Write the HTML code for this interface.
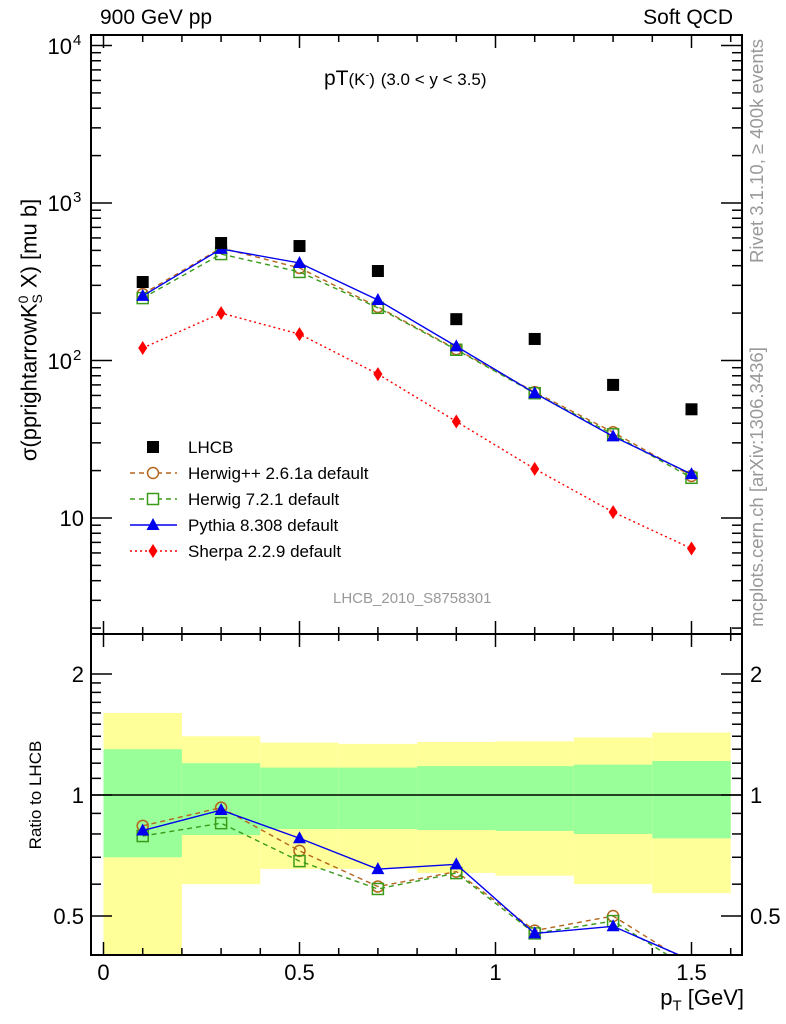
<!DOCTYPE html>
<html><head><meta charset="utf-8"><style>
html,body{margin:0;padding:0;background:#fff;}
svg{display:block;font-family:"Liberation Sans",sans-serif;}
</style></head><body>
<svg id="c" width="786" height="1024" viewBox="0 0 786 1024"></svg>
<script>
const xCenters=[0.1,0.3,0.5,0.7,0.9,1.1,1.3,1.5];
const lhcb=[315,557,533,370,183,137,70,49];
const herwigpp=[264,518,387,219,118,63,35,18.5];
const herwig7=[249,474,365,216,117,62,34,18];
const pythia=[257,511,416,242,123,62,33,19];
const sherpa=[120,200,147,82,41,20.5,10.9,6.4];
const binEdges=[0,0.2,0.4,0.6,0.8,1.0,1.2,1.4,1.6];
const yellowUp=[1.60,1.40,1.35,1.34,1.355,1.36,1.39,1.43];
const greenUp=[1.30,1.20,1.17,1.17,1.18,1.18,1.19,1.215];
const greenLo=[0.70,0.795,0.823,0.823,0.818,0.814,0.80,0.78];
const yellowLo=[0.35,0.60,0.655,0.655,0.64,0.63,0.60,0.57];
const xTicks=[0,0.5,1,1.5];
const xTickLabels=["0","0.5","1","1.5"];
const ratioTicks=[0.5,1,2];
const ratioTickLabels=["0.5","1","2"];

const NS="http://www.w3.org/2000/svg";
const svg=document.getElementById('c');
const L=91,R=742,T=35,MB=634,RB=955;
const X=v=>103.5+v*392;
const Y=v=>518-(Math.log10(v)-1)*157.5;
const RY=v=>795-Math.log10(v)*402;
function mk(tag,a,parent){const e=document.createElementNS(NS,tag);for(const k in a)e.setAttribute(k,a[k]);(parent||svg).appendChild(e);return e;}

const defs=mk('defs',{});
const cp1=mk('clipPath',{id:'cm'},defs);mk('rect',{x:L,y:T,width:R-L,height:MB-T},cp1);
const cp2=mk('clipPath',{id:'cr'},defs);mk('rect',{x:L,y:MB,width:R-L,height:RB-MB},cp2);

const gb=mk('g',{'clip-path':'url(#cr)'});


for(let i=0;i<xCenters.length;i++){
  const x0=X(binEdges[i]),x1=X(binEdges[i+1]);
  const yb=mk('rect',{x:x0,y:RY(yellowUp[i]),width:x1-x0,height:RY(yellowLo[i])-RY(yellowUp[i]),fill:'#ffff99'},gb);
  
  
  const gr=mk('rect',{x:x0,y:RY(greenUp[i]),width:x1-x0,height:RY(greenLo[i])-RY(greenUp[i]),fill:'#99ff99'},gb);
  
  
}
mk('line',{x1:L,x2:R,y1:RY(1),y2:RY(1),stroke:'#000','stroke-width':1.5});

const series=[
 {name:'herwigpp',d:herwigpp,c:'#b5651d',dash:'5,4',m:'circle'},
 {name:'herwig7',d:herwig7,c:'#3a9a1a',dash:'5,4',m:'osquare'},
 {name:'pythia',d:pythia,c:'#0000ee',dash:'',m:'tri'},
 {name:'sherpa',d:sherpa,c:'#ff0000',dash:'2,3',m:'diamond'}
];
function marker(g,type,x,y,c){
  let e;
  if(type==='circle')e=mk('circle',{cx:x,cy:y,r:5.5,fill:'none',stroke:c,'stroke-width':1.5},g);
  else if(type==='osquare')e=mk('rect',{x:x-5.5,y:y-5.5,width:11,height:11,fill:'none',stroke:c,'stroke-width':1.5},g);
  else if(type==='tri')e=mk('polygon',{points:`${x},${y-7} ${x-6.5},${y+5} ${x+6.5},${y+5}`,fill:c},g);
  else if(type==='diamond')e=mk('polygon',{points:`${x},${y-7} ${x-4.5},${y} ${x},${y+7} ${x+4.5},${y}`,fill:c},g);
  else if(type==='fsquare')e=mk('rect',{x:x-6,y:y-6,width:12,height:12,fill:c},g);
  return e;
}
function drawSeries(s,yf,clip,ratio){
  const g=mk('g',{'clip-path':clip});
  
  
  const vals=s.d.map((v,i)=>ratio?v/lhcb[i]:v);
  const pts=vals.map((v,i)=>X(xCenters[i])+','+yf(v)).join(' ');
  const pl=mk('polyline',{points:pts,fill:'none',stroke:s.c,'stroke-width':1.4,'stroke-dasharray':s.dash},g);
  
  
  vals.forEach((v,i)=>{const e=marker(g,s.m,X(xCenters[i]),yf(v),s.c);
    
    });
}
series.forEach(s=>drawSeries(s,Y,'url(#cm)',false));
series.filter(s=>s.name!=='sherpa').forEach(s=>drawSeries(s,RY,'url(#cr)',true));
const gl=mk('g',{});


lhcb.forEach((v,i)=>{const e=marker(gl,'fsquare',X(xCenters[i]),Y(v),'#000');
  
  });

mk('rect',{x:L,y:T,width:R-L,height:RB-T,fill:'none',stroke:'#000','stroke-width':2});
mk('line',{x1:L,x2:R,y1:MB,y2:MB,stroke:'#000','stroke-width':2});

for(let k=0;k<=16;k++){
  const v=k/10,x=X(v),maj=(k%5===0),len=maj?13:7;
  [[T,1],[MB,-1],[MB,1],[RB,-1]].forEach(([y0,d])=>mk('line',{x1:x,x2:x,y1:y0,y2:y0+d*len,stroke:'#000','stroke-width':1.5}));
}
xTicks.forEach((v,i)=>{const t=mk('text',{x:X(v),y:980,'font-size':22,'text-anchor':'middle'});t.textContent=xTickLabels[i];
  });

for(let e=0;e<=4;e++)for(let m=1;m<=9;m++){
  const v=m*Math.pow(10,e);const y=Y(v);if(y<T||y>MB)continue;
  const len=m===1?21:10;
  mk('line',{x1:L,x2:L+len,y1:y,y2:y,stroke:'#000','stroke-width':1.5});
  mk('line',{x1:R,x2:R-len,y1:y,y2:y,stroke:'#000','stroke-width':1.5});
}
[["10",518],["10",361],["10",203],["10",46]].forEach(([b,y],i)=>{
  const t=mk('text',{x:i===0?84:72,y:y+8,'font-size':22,'text-anchor':'end'});t.textContent=b;
  
  if(i>0){const s=mk('text',{x:73,y:y-1,'font-size':15});s.textContent=String(i+1);}
});
const rt=[0.4,0.5,0.6,0.7,0.8,0.9,1,1.1,1.2,1.3,1.4,1.5,1.6,1.7,1.8,1.9,2];
rt.forEach(v=>{const y=RY(v);const len=(v===0.5||v===1||v===2)?21:10;
  mk('line',{x1:L,x2:L+len,y1:y,y2:y,stroke:'#000','stroke-width':1.5});
  mk('line',{x1:R,x2:R-len,y1:y,y2:y,stroke:'#000','stroke-width':1.5});});
ratioTicks.forEach((v,i)=>{
  const t=mk('text',{x:84,y:RY(v)+8,'font-size':22,'text-anchor':'end'});t.textContent=ratioTickLabels[i];
  
  const t2=mk('text',{x:750,y:RY(v)+8,'font-size':22});t2.textContent=ratioTickLabels[i];
  
});

const leg=[['LHCB','#000','','fsquare'],['Herwig++ 2.6.1a default','#b5651d','5,4','circle'],['Herwig 7.2.1 default','#3a9a1a','5,4','osquare'],['Pythia 8.308 default','#0000ee','','tri'],['Sherpa 2.2.9 default','#ff0000','2,3','diamond']];
leg.forEach((l,i)=>{const y=447+i*26;
  const g=mk('g',{});
  if(i>0)mk('line',{x1:130,x2:177,y1:y,y2:y,stroke:l[1],'stroke-width':1.4,'stroke-dasharray':l[2]},g);
  if(i>0&&(l[3]==='circle'||l[3]==='osquare'))mk('rect',{x:147,y:y-6,width:12,height:12,fill:'#fff'},g);
  marker(g,l[3],153,y,l[1]);
  const t=mk('text',{x:188,y:y+6,'font-size':17},g);t.textContent=l[0];});
</script>
<div style="position:absolute;left:0;top:0;width:786px;height:1024px;font-family:'Liberation Sans',sans-serif;pointer-events:none">
 <div style="position:absolute;left:100px;top:6px;font-size:21px">900 GeV pp</div>
 <div style="position:absolute;right:53px;top:6px;font-size:21px">Soft QCD</div>
 <div style="position:absolute;left:324px;top:67px;font-size:21px;white-space:nowrap">pT<span style="font-size:17px">(K<sup style="font-size:11px">-</sup>)</span> <span style="font-size:17px">(3.0 &lt; y &lt; 3.5)</span></div>
 <div style="position:absolute;left:333px;top:590px;font-size:15px;color:#999">LHCB_2010_S8758301</div>
 <div style="position:absolute;left:30px;top:330px;transform:translate(-50%,-50%) rotate(-90deg);font-size:22px;white-space:nowrap">σ(pprightarrowK<sup style="font-size:14px">0</sup><sub style="font-size:14px;margin-left:-8px">S</sub> X) [mu b]</div>
 <div style="position:absolute;left:36px;top:795px;transform:translate(-50%,-50%) rotate(-90deg);font-size:17px;white-space:nowrap">Ratio to LHCB</div>
 <div style="position:absolute;right:42px;top:985px;font-size:22px;white-space:nowrap">p<sub style="font-size:15px">T</sub> [GeV]</div>
 <div style="position:absolute;left:757px;top:151px;transform:translate(-50%,-50%) rotate(-90deg);font-size:18.5px;color:#999;white-space:nowrap">Rivet 3.1.10, ≥ 400k events</div>
 <div style="position:absolute;left:757px;top:487px;transform:translate(-50%,-50%) rotate(-90deg);font-size:18.5px;color:#999;white-space:nowrap">mcplots.cern.ch [arXiv:1306.3436]</div>
</div>
</body></html>
